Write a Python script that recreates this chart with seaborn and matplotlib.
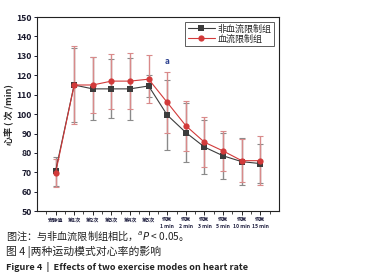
import matplotlib
matplotlib.use("Agg")
import matplotlib.pyplot as plt
import numpy as np
import pandas as pd
import seaborn as sns

# Time points
stages = ["安静值", "第1次", "第2次", "第3次", "第4次", "第5次",
          "恢复\n1 min", "恢复\n2 min", "恢复\n3 min", "恢复\n5 min",
          "恢复\n10 min", "恢复\n15 min"]

# Heart rate mean / SD
ctrl_mean = [70.5, 115, 113, 113, 113, 114.5, 99.5, 90.5, 83, 78.5, 75.5, 74.5]
ctrl_sd = [7.5, 19, 16.2, 15.2, 15.8, 5.5, 18, 15, 14, 12, 12, 10]
bfr_mean = [69.5, 115, 115, 117, 117, 118, 106, 94, 85.5, 81, 76, 76]
bfr_sd = [7.3, 20, 14.5, 14.2, 14.5, 12.5, 15.8, 13, 13, 10.3, 11, 12.5]

series_names = ["非血流限制组", "血流限制组"]

sns.set_theme(style="ticks")
plt.rcParams["font.family"] = ["Noto Sans CJK SC", "DejaVu Sans"]

fig = plt.figure(figsize=(3.69, 2.80), dpi=100)
ax = fig.add_axes([0.100, 0.246, 0.656, 0.693])

x = np.arange(len(stages))
df = pd.DataFrame({
    "x": np.concatenate([x, x]),
    "hr": ctrl_mean + bfr_mean,
    "sd": ctrl_sd + bfr_sd,
    "group": [series_names[0]] * len(x) + [series_names[1]] * len(x),
})

line_colors = {series_names[0]: "#3c3c3c", series_names[1]: "#d23a3a"}
err_colors = {series_names[0]: "#8a8a8a", series_names[1]: "#d98a8a"}
marks = {series_names[0]: "s", series_names[1]: "o"}

# Error bars first so the lines sit on top
for name in series_names:
    sub = df[df["group"] == name]
    ax.errorbar(sub["x"], sub["hr"], yerr=sub["sd"], fmt="none",
                ecolor=err_colors[name], elinewidth=1.0, capsize=2.2,
                capthick=0.8, zorder=2)

sns.lineplot(data=df, x="x", y="hr", hue="group", style="group",
             palette=line_colors, markers=marks, dashes=False,
             linewidth=0.8, markersize=4.5, markeredgewidth=0,
             ax=ax, zorder=3)

ax.set_xlim(-1, 12)
ax.set_ylim(50, 150)
ax.set_yticks(np.arange(50, 151, 10))
ax.set_xticks(x)
ax.set_xticklabels(stages, fontsize=3.7, fontweight="bold", color="#202040",
                   linespacing=1.4)
ax.set_xticks(np.arange(-0.5, 12, 1), minor=True)
ax.tick_params(axis="y", labelsize=6.3, length=2, width=0.7, pad=1.5,
               colors="#1a1a2e")
ax.tick_params(axis="x", which="major", length=3, width=0.7, pad=1.5)
ax.tick_params(axis="x", which="minor", length=2, width=0.6)
for lbl in ax.get_yticklabels():
    lbl.set_fontweight("bold")
for sp in ax.spines.values():
    sp.set_linewidth(0.8)
    sp.set_color("#222222")

ax.set_xlabel("")
ax.set_ylabel("心率 ( 次 /min)", fontsize=6.5, fontweight="bold", labelpad=2)

ax.text(6, 125, "a", fontsize=6, fontweight="bold", color="#2a3f8f",
        ha="center", va="bottom")

leg = ax.legend(loc="upper right", fontsize=6.5, frameon=True,
                fancybox=False, edgecolor="#333333", handlelength=3,
                borderpad=0.3, labelspacing=0.1, handletextpad=0.3,
                borderaxespad=0.5)
leg.get_frame().set_linewidth(0.7)
leg.set_title(None)

fig.text(0.015, 0.142, "图注：与非血流限制组相比，$^{a}$$\\it{P}$ < 0.05。",
         fontsize=7.3, color="#222222")
fig.text(0.015, 0.088, "图 4 |两种运动模式对心率的影响",
         fontsize=7.8, color="#222222")
fig.text(0.015, 0.035, "Figure 4  |  Effects of two exercise modes on heart rate",
         fontsize=6.6, fontweight="bold", color="#222222")

fig.savefig("out.png", dpi=100)
